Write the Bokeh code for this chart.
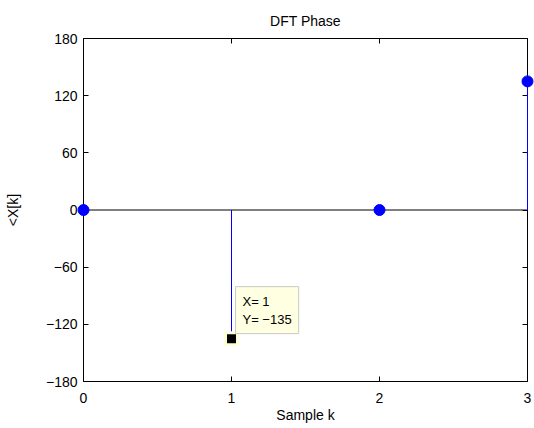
from bokeh.plotting import figure
from bokeh.models import Range1d, LinearAxis, FixedTicker, Label
from bokeh.embed import file_html
from bokeh.resources import INLINE

# ---- data ----
k = [0, 1, 2, 3]
phase = [0, -135, 0, 135]
x_ticks = [0, 1, 2, 3]
y_ticks = [-180, -120, -60, 0, 60, 120, 180]
y_tick_labels = ["\u2212180", "\u2212120", "\u221260", "0", "60", "120", "180"]
title_text = "DFT Phase"
x_label = "Sample k"
y_label = "<X[k]"
tip_k = 1
tip_val = -135
tip_text = "X= 1\nY= \u2212135"

FONT = "Liberation Sans"
FS = "14px"

x_lo, x_hi = min(x_ticks), max(x_ticks)
y_lo, y_hi = min(y_ticks), max(y_ticks)

p = figure(width=534, height=428, output_backend="svg", toolbar_location=None,
           x_range=Range1d(x_lo, x_hi), y_range=Range1d(y_lo, y_hi),
           min_border_left=83, min_border_right=7, min_border_top=38, min_border_bottom=47,
           x_axis_location=None, y_axis_location=None, title=title_text)
p.outline_line_color = None
p.background_fill_color = "white"
p.border_fill_color = "white"
for g in p.grid:
    g.visible = False

p.title.align = "center"
p.title.text_font = FONT
p.title.text_font_size = FS
p.title.text_font_style = "normal"
p.title.text_color = "black"
p.title.standoff = 20

ylab_over = {v: s for v, s in zip(y_ticks, y_tick_labels)}


def style(ax, labels=True):
    ax.major_tick_in = 5
    ax.major_tick_out = 0
    ax.minor_tick_in = 0
    ax.minor_tick_out = 0
    ax.axis_line_color = "black"
    ax.major_tick_line_color = "black"
    ax.major_label_text_font = FONT
    ax.major_label_text_color = "black"
    ax.axis_label_text_font = FONT
    ax.axis_label_text_font_style = "normal"
    ax.axis_label_text_font_size = FS
    ax.axis_label_text_color = "black"
    if labels:
        ax.major_label_text_font_size = FS
    else:
        ax.major_label_text_font_size = "1px"
        ax.major_label_text_alpha = 0
        ax.major_label_standoff = 0


bottom = LinearAxis(ticker=FixedTicker(ticks=x_ticks), axis_label=x_label)
style(bottom)
bottom.major_label_standoff = 11
bottom.axis_label_standoff = 1
p.add_layout(bottom, "below")

top = LinearAxis(ticker=FixedTicker(ticks=x_ticks))
style(top, labels=False)
p.add_layout(top, "above")

left = LinearAxis(ticker=FixedTicker(ticks=y_ticks), axis_label=y_label,
                  major_label_overrides=ylab_over)
style(left)
left.major_label_standoff = 6
left.axis_label_standoff = 22
p.add_layout(left, "left")

right = LinearAxis(ticker=FixedTicker(ticks=y_ticks))
style(right, labels=False)
p.add_layout(right, "right")

# baseline
base = p.segment(x0=[x_lo], y0=[0], x1=[x_hi], y1=[0], line_color="black", line_width=1)

# stems
stems = p.segment(x0=k, y0=[0] * len(k), x1=k, y1=phase, line_color="#0000FF", line_width=1)
stems.level = "overlay"

# markers
marks = p.scatter(k, phase, size=11, fill_color="#0000FF", line_color="#0000FF", marker="circle")
marks.level = "overlay"

# data tip cursor
cur = p.scatter([tip_k], [tip_val], size=12, marker="square", fill_color="black",
                line_color="#FFFFD8", line_width=3)
cur.level = "overlay"

tip = Label(x=tip_k, y=tip_val, text=tip_text, x_offset=4, y_offset=5,
            text_align="left", text_baseline="bottom",
            text_font=FONT, text_font_size="13px", text_color="black",
            background_fill_color="#FFFFE1", border_line_color="#C8C8C8",
            padding=7)
tip.level = "overlay"
p.add_layout(tip)

open("out.html", "w").write(file_html(p, INLINE))
